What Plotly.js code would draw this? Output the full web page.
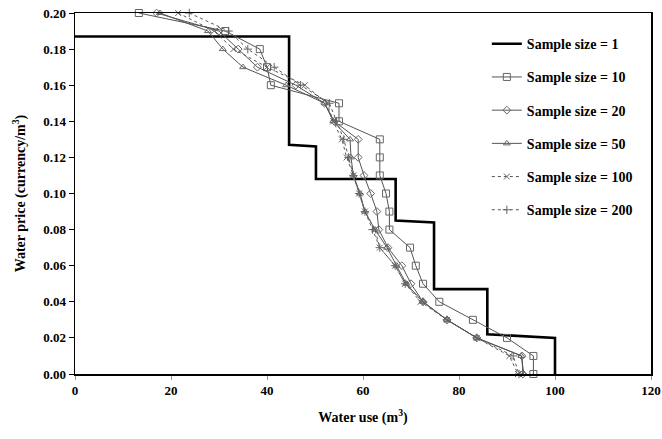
<!DOCTYPE html>
<html>
<head>
<meta charset="utf-8">
<script src="https://cdn.plot.ly/plotly-3.0.1.min.js"></script>
<style>html,body{margin:0;padding:0;background:#fff;}#chart{width:662px;height:439px;}</style>
</head>
<body>
<div id="chart"></div>
<script>
// Sample size = 1 (step curve)
const s1X = [0, 44.6, 44.6, 49.6, 50.2, 50.2, 66.8, 66.8, 74.8, 74.8, 85.9, 85.9, 100, 100];
const s1Y = [0.187, 0.187, 0.127, 0.126, 0.126, 0.108, 0.108, 0.085, 0.084, 0.047, 0.047, 0.022, 0.020, 0.0];

// price levels shared by sampled curves
const prices = [0.20, 0.19, 0.18, 0.17, 0.16, 0.15, 0.14, 0.13, 0.12, 0.11, 0.10, 0.09, 0.08, 0.07, 0.06, 0.05, 0.04, 0.03, 0.02, 0.01, 0.00];
const s10X  = [13.3, 31.3, 38.5, 40.0, 40.8, 55.0, 55.0, 63.5, 63.5, 63.5, 64.8, 65.5, 65.5, 69.8, 71.0, 72.5, 75.9, 82.9, 90.0, 95.5, 95.5];
const s20X  = [17.0, 30.0, 34.0, 38.0, 46.0, 52.0, 54.0, 59.0, 59.0, 60.2, 61.6, 62.9, 63.3, 65.2, 68.1, 70.0, 72.5, 77.5, 83.7, 93.1, 93.3];
const s50X  = [17.7, 27.7, 30.8, 35.0, 44.0, 52.0, 53.8, 57.3, 57.5, 58.0, 59.4, 60.4, 62.5, 65.0, 67.0, 69.0, 72.5, 77.5, 83.7, 93.0, 93.5];
const s100X = [21.5, 29.0, 33.0, 40.0, 47.9, 52.5, 53.8, 55.6, 56.6, 58.0, 59.2, 60.4, 62.5, 63.5, 66.7, 68.8, 72.0, 77.5, 83.7, 90.5, 92.3];
const s200X = [23.8, 32.0, 36.0, 41.5, 47.0, 53.0, 54.5, 56.0, 57.0, 58.0, 59.2, 60.4, 62.0, 63.5, 66.7, 68.8, 72.5, 77.5, 83.7, 91.3, 92.5];

const names = ['Sample size = 1', 'Sample size = 10', 'Sample size = 20', 'Sample size = 50', 'Sample size = 100', 'Sample size = 200'];
const xTicks = [0, 20, 40, 60, 80, 100, 120];
const yTicks = [0.00, 0.02, 0.04, 0.06, 0.08, 0.10, 0.12, 0.14, 0.16, 0.18, 0.20];

const fam = 'Liberation Serif, Times New Roman, serif';
const lineGray = '#555555';
const mkGray = '#666666';

function sampleTrace(xs, name, symbol, dash, group) {
  return {
    x: xs, y: prices, name: name, type: 'scatter', mode: 'lines+markers',
    line: {color: lineGray, width: 1, dash: dash},
    marker: {symbol: symbol, size: 6, color: mkGray, line: {color: mkGray, width: 1}},
    cliponaxis: false, legendgroup: group
  };
}

const traces = [
  {x: s1X, y: s1Y, name: names[0], type: 'scatter', mode: 'lines',
   line: {color: '#000000', width: 2.6}, cliponaxis: false, legendgroup: 'g1'},
  sampleTrace(s10X, names[1], 'square-open', 'solid', 'g2'),
  sampleTrace(s20X, names[2], 'diamond-open', 'solid', 'g3'),
  sampleTrace(s50X, names[3], 'triangle-up-open', 'solid', 'g4'),
  sampleTrace(s100X, names[4], 'x-thin-open', 'dot', 'g5'),
  sampleTrace(s200X, names[5], 'cross-thin-open', 'dot', 'g6')
];
traces[1].marker.size = 7;

const layout = {
  width: 662, height: 439,
  margin: {l: 75, r: 11, t: 13, b: 65},
  paper_bgcolor: '#ffffff', plot_bgcolor: '#ffffff',
  font: {family: fam, color: '#000000', size: 13},
  showlegend: true,
  legend: {
    x: 0.715, y: 0.958, xanchor: 'left', yanchor: 'top',
    bgcolor: 'rgba(0,0,0,0)', borderwidth: 0,
    font: {family: fam, size: 14, weight: 'bold', color: '#000'},
    itemwidth: 30, traceorder: 'grouped', tracegroupgap: 12
  },
  xaxis: {
    range: [0, 120], tickvals: xTicks, ticktext: xTicks.map(String),
    showgrid: false, zeroline: false,
    showline: true, linecolor: '#000', linewidth: 1.5, mirror: true,
    ticks: 'outside', ticklen: 4, tickcolor: '#999',
    tickfont: {family: fam, size: 13, weight: 'bold'},
    title: {text: 'Water use (m<sup>3</sup>)', font: {family: fam, size: 14, weight: 'bold'}, standoff: 15}
  },
  yaxis: {
    range: [0, 0.20], tickvals: yTicks, ticktext: yTicks.map(v => v.toFixed(2)),
    showgrid: false, zeroline: false,
    showline: true, linecolor: '#000', linewidth: 1.5, mirror: true,
    ticks: 'outside', ticklen: 5, tickcolor: '#000',
    tickfont: {family: fam, size: 13, weight: 'bold'},
    title: {text: 'Water price (currency/m<sup>3</sup>)', font: {family: fam, size: 14, weight: 'bold'}, standoff: 14}
  }
};

Plotly.newPlot('chart', traces, layout, {displayModeBar: false, staticPlot: true});
</script>
</body>
</html>
